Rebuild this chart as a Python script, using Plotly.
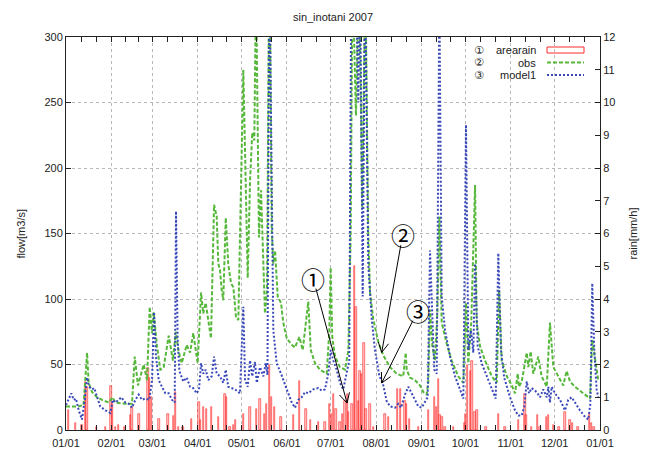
import math
import pandas as pd
import plotly.graph_objects as go

BASE = pd.Timestamp("2007-01-01")

# ---- data: (day of year from Jan 1, value) ----
obs_points = [
    (0, 18), (8, 18), (12, 19), (14.4, 59), (15.5, 36), (17.8, 29), (21.2, 25), (24.6, 23),
    (29.2, 21), (31.9, 25), (33.7, 21), (40.5, 20), (45.1, 20), (47, 56), (49.2, 34), (53.1, 50),
    (55.4, 38), (57.2, 94), (58.8, 74), (59.9, 90), (62.2, 64), (64.5, 46), (66.8, 48), (70.2, 72),
    (73.1, 53), (75, 75), (76.8, 61), (79.1, 51), (82.5, 65), (84.8, 59), (87, 74), (90, 51),
    (92.3, 105), (93.8, 89), (95.5, 97), (97.3, 82), (99.1, 70), (101.2, 172), (103, 163),
    (104.1, 127), (105.3, 122), (106.4, 107), (107.5, 99), (109.2, 162), (110.9, 127),
    (112.8, 112), (114.4, 109), (116.2, 86), (117.8, 84), (121.2, 275), (124.2, 116),
    (125.8, 190), (127.3, 227), (128.7, 221), (129.9, 340), (131.9, 147), (133.3, 183),
    (134.9, 127), (136, 89), (137.4, 107), (139, 380), (140.6, 153), (141.7, 127), (142.9, 137),
    (144.7, 102), (147, 97), (148.5, 82), (150.9, 70), (154.3, 65), (156.5, 63), (159.5, 71),
    (161.8, 61), (165.6, 98), (167.3, 61), (170.2, 51), (173.6, 46), (178.2, 43), (180, 76),
    (180.9, 124), (182, 71), (183.9, 56), (187.3, 48), (190.7, 46), (193, 61), (194.6, 150),
    (195.8, 350), (198.2, 240), (200.3, 350), (202.5, 170), (204.6, 350), (206.6, 150),
    (207.8, 105), (210.1, 84), (213.5, 67), (216.9, 57), (221.5, 48), (226, 43), (230.5, 41),
    (232.2, 59), (232.9, 46), (235.1, 40), (238.6, 38), (242, 34), (244.2, 29), (246.5, 27),
    (247.6, 36), (248.8, 92), (250.4, 64), (252.2, 53), (253.8, 89), (255.2, 163), (256.8, 82),
    (260.2, 66), (263.6, 53), (268.1, 41), (271.6, 36), (273.4, 97), (275, 51), (277, 82),
    (279.6, 187), (280.7, 82), (283, 64), (286.4, 53), (291, 41), (294.4, 36), (296, 107),
    (297.8, 53), (301.3, 41), (304.7, 34), (306.9, 28), (308.8, 43), (309.6, 33), (311.5, 37),
    (313.7, 51), (314.9, 59), (316, 48), (317.6, 60), (319.4, 43), (322.8, 56), (325.1, 41),
    (328.6, 33), (330.8, 82), (332, 64), (333.1, 48), (336.5, 41), (339.9, 34), (342.2, 45),
    (344.5, 37), (347.9, 33), (352.5, 29), (358.2, 24), (359.7, 69), (361.6, 53), (363.8, 38),
]

model_points = [
    (0, 19), (1.8, 24), (3.6, 28), (5.3, 23), (6.8, 24), (8.7, 15), (10.9, 8), (12.8, 23),
    (14.4, 40), (15.9, 33), (17.8, 31), (19.3, 32), (21.2, 25), (23.4, 18), (26.9, 15),
    (30.3, 13), (31.9, 23), (33.7, 21), (36, 23), (37.8, 25), (40.5, 21), (42.9, 20), (45.1, 17),
    (47.4, 23), (49.7, 27), (51.9, 23), (54.2, 24), (56.9, 23), (58.8, 38), (60.2, 90),
    (61.5, 56), (63.4, 38), (65.6, 33), (67.9, 28), (70.2, 28), (72.5, 23), (74.3, 21),
    (75.2, 167), (76.3, 70), (77.5, 45), (80.2, 37), (82.5, 40), (84.8, 33), (87, 32),
    (89.3, 28), (90.9, 31), (92.3, 51), (93.8, 43), (95.5, 46), (97.3, 38), (99.6, 41),
    (101.2, 56), (103, 43), (105.3, 41), (107.5, 36), (109.2, 46), (110.9, 33), (113.3, 32),
    (115.5, 31), (118.9, 28), (121.2, 94), (122.4, 38), (124.2, 33), (125.8, 53), (127.3, 41),
    (129.2, 52), (130.4, 36), (132.6, 48), (134.9, 41), (136.5, 51), (137.7, 42), (139, 360),
    (141.7, 76), (144, 51), (147, 43), (150.9, 31), (154.3, 21), (156.5, 17), (158.8, 23),
    (161.1, 25), (163.4, 29), (165.6, 28), (169, 31), (172.5, 32), (174.8, 30), (177, 31),
    (179.3, 43), (180.9, 61), (182.7, 53), (185, 46), (187.3, 36), (189.5, 31), (191.9, 43),
    (193.6, 53), (195, 350), (198, 350), (199.8, 250), (201, 350), (202.8, 102), (204.4, 350),
    (206.6, 127), (209, 84), (211.2, 61), (214.2, 41), (216.5, 36), (219.2, 22), (221.5, 18),
    (224.9, 17), (227.1, 20), (229, 17), (231.7, 27), (234, 33), (236.3, 28), (238.6, 23),
    (240.8, 18), (243.1, 17), (245.4, 21), (247.2, 25), (248.8, 137), (250, 102), (251.7, 46),
    (253.4, 43), (255.2, 330), (256.8, 102), (259.1, 76), (262.5, 56), (265.9, 41), (269.3, 31),
    (271.6, 24), (273.4, 233), (275, 61), (276.8, 76), (278.4, 59), (279.6, 127), (281.4, 64),
    (284.1, 51), (287.6, 41), (291, 31), (293.7, 24), (295.5, 135), (297.3, 61), (299.5, 40),
    (302, 31), (303.5, 25), (306.9, 15), (309.2, 11), (311.5, 11), (313.3, 18), (314.9, 37),
    (316.5, 28), (318.3, 32), (321.7, 29), (324, 25), (326.2, 31), (328.6, 25), (329.7, 33),
    (330.8, 21), (332, 33), (334.2, 28), (337.7, 23), (341.1, 15), (343.3, 23), (345.6, 25),
    (347.9, 21), (351.3, 15), (354.8, 10), (357, 8), (358.4, 20), (359.7, 112), (361.1, 61),
    (362.7, 31), (363.8, 25),
]

rain_points = [
    (1.8, 0.6), (6.3, 0.2), (11, 0.15), (13.3, 1.46), (14.4, 1.3), (21, 0.1), (27, 0.1),
    (30.8, 1.33), (32, 0.8), (34, 0.1), (36, 0.15), (40, 0.1), (44, 0.45), (45.1, 0.7),
    (50, 0.5), (56, 1.9), (57, 1.6), (58.3, 1.0), (63.5, 0.33), (69.7, 0.48), (73.5, 0.42),
    (74.7, 1.15), (76.8, 0.1), (80, 0.1), (85.6, 0.35), (90.9, 0.85), (92, 0.3), (93.8, 0.7),
    (96, 0.65), (99.6, 0.7), (104.1, 0.4), (108.7, 1.1), (109.8, 1.0), (112, 0.1), (114.5, 0.15),
    (116, 0.3), (121.2, 0.5), (125.8, 0.7), (130.4, 0.65), (132.6, 0.95), (135.5, 0.5),
    (137.1, 0.8), (139, 2.0), (140.6, 1.0), (142.4, 0.7), (147, 0.4), (155.3, 0.45),
    (159.5, 1.5), (164, 0.65), (167.3, 0.3), (172.5, 0.25), (177, 0.25), (180, 0.8),
    (181.6, 0.5), (182.7, 1.1), (184.5, 0.65), (187.3, 0.25), (189, 0.5), (190.7, 0.9),
    (192.2, 1.1), (193.3, 0.55), (195.5, 0.8), (197, 5.0), (198.3, 3.75), (199.8, 0.9),
    (201, 1.8), (202.2, 1.7), (203.7, 2.65), (205.1, 0.65), (207.8, 0.8), (210, 0.1),
    (218, 0.5), (220.3, 0.4), (226.6, 1.25), (228.5, 1.25), (231.7, 0.9), (232.9, 0.8),
    (235, 0.35), (241, 0.1), (247.6, 0.6), (251.7, 1.0), (253.4, 0.7), (254.5, 1.55),
    (255.6, 0.45), (257, 0.4), (259, 0.1), (265, 0.1), (272.5, 0.2), (273.2, 0.5), (274.5, 2.0),
    (276.3, 1.8), (277.4, 2.1), (279.6, 0.55), (281, 0.6), (287, 0.1), (295.5, 0.5), (300, 0.1),
    (309.2, 0.3), (313.7, 1.1), (314.5, 0.45), (318, 0.1), (322.5, 0.45), (324, 0.1),
    (328.6, 0.4), (329.7, 0.45), (333, 0.15), (337, 0.1), (341.1, 0.55), (344.5, 0.3),
    (346, 0.2), (350, 0.1), (358, 0.5), (359, 0.2), (361, 0.1),
]

title_text = "sin_inotani 2007"
series_names = ["arearain", "obs", "model1"]
marks = ["\u2460", "\u2461", "\u2462"]
# call-out targets: (day, flow) and offset of the circled number from the target, in px
callouts = [(192.1, 20.6, -34, -125), (215.8, 59.2, 21, -118), (215.8, 35.9, 36, -72)]


def to_dates(days):
    return [BASE + pd.Timedelta(days=float(d)) for d in days]


obs_day, obs_val = zip(*obs_points)
mod_day, mod_val = zip(*model_points)
rain_day, rain_val = zip(*rain_points)

FONT = "Liberation Sans, Arial, sans-serif"
CJK = "Noto Sans CJK JP"
GREEN = "#56b83a"
BLUE = "#3848b8"
RED = "#ff2a2a"

# plot-area geometry (pixels) used for the overlay drawings
W, H = 650, 449
ML, MR, MT, MB = 66, 50, 37, 19
PW, PH = W - ML - MR, H - MT - MB
XSPAN = 365.0
FLOW_MAX = 300.0


def px(v):
    return (v - ML) / PW


def py(v):
    return (H - MB - v) / PH


fig = go.Figure()
fig.add_trace(go.Bar(
    x=to_dates(rain_day), y=rain_val, yaxis="y", width=86400000 * 0.9,
    marker=dict(color="rgba(255,90,90,0.35)", line=dict(color=RED, width=0.6)),
    showlegend=False, name=series_names[0]))
fig.add_trace(go.Scatter(
    x=to_dates(obs_day), y=obs_val, yaxis="y2", mode="lines",
    line=dict(color=GREEN, width=2, dash="4px,2px"), showlegend=False, name=series_names[1]))
fig.add_trace(go.Scatter(
    x=to_dates(mod_day), y=mod_val, yaxis="y2", mode="lines",
    line=dict(color=BLUE, width=2, dash="2px,2px"), showlegend=False, name=series_names[2]))

# minor ticks: thirds of each month
minor_vals = []
months = pd.date_range("2007-01-01", "2008-01-01", freq="MS")
for a, b in zip(months[:-1], months[1:]):
    minor_vals.append(a + (b - a) / 3)
    minor_vals.append(a + 2 * (b - a) / 3)

grid = dict(showgrid=True, gridcolor="#b8b8b8", griddash="dot", gridwidth=1)

fig.update_layout(
    width=W, height=H,
    margin=dict(l=ML, r=MR, t=MT, b=MB),
    paper_bgcolor="white", plot_bgcolor="white",
    font=dict(family=FONT, size=11, color="#222"),
    bargap=0,
    title=dict(text=title_text, x=333 / W, xanchor="center", y=1 - 17 / H, yanchor="middle",
               font=dict(family=FONT, size=11, color="#222")),
    xaxis=dict(type="date", range=[BASE, BASE + pd.Timedelta(days=365)],
               tickformat="%m/%d", dtick="M1", tick0="2007-01-01",
               ticks="inside", ticklen=5, tickcolor="#222", ticklabelstandoff=3,
               automargin=False,
               showline=True, linecolor="#222", linewidth=1, mirror="allticks",
               minor=dict(tickvals=minor_vals, ticks="inside", ticklen=3, tickcolor="#222",
                          showgrid=False),
               zeroline=False, **grid),
    yaxis=dict(side="right", range=[0, 12], dtick=1, ticks="inside", ticklen=5,
               tickcolor="#222", showline=True, linecolor="#222", linewidth=1,
               showgrid=False, zeroline=False, automargin=False),
    yaxis2=dict(side="left", overlaying="y", range=[0, FLOW_MAX], dtick=50, ticks="inside",
                ticklen=5, tickcolor="#222", showline=True, linecolor="#222", linewidth=1,
                zeroline=False, automargin=False, **grid),
)

ann = []
ann.append(dict(text="flow[m3/s]", xref="paper", yref="paper", x=px(12), y=0.5,
                textangle=-90, showarrow=False, font=dict(family=FONT, size=11, color="#222")))
ann.append(dict(text="rain[mm/h]", xref="paper", yref="paper", x=px(640), y=0.5,
                textangle=-90, showarrow=False, font=dict(family=FONT, size=11, color="#222")))

# legend (keys on the right, labels right-aligned)
rows_y = [50, 62.5, 75]
for i, name in enumerate(series_names):
    ann.append(dict(text=name, xref="paper", yref="paper", x=px(538), y=py(rows_y[i]),
                    xanchor="right", yanchor="middle", showarrow=False,
                    font=dict(family=FONT, size=11, color="#222")))
    ann.append(dict(text=marks[i], xref="paper", yref="paper", x=px(479), y=py(rows_y[i]),
                    xanchor="center", yanchor="middle", showarrow=False,
                    font=dict(family="DejaVu Sans", size=11, color="#222")))

shapes = [
    dict(type="rect", xref="paper", yref="paper", x0=px(547), x1=px(584),
         y0=py(rows_y[0] + 3), y1=py(rows_y[0] - 3), line=dict(color=RED, width=1),
         fillcolor="rgba(0,0,0,0)"),
    dict(type="line", xref="paper", yref="paper", x0=px(547), x1=px(584),
         y0=py(rows_y[1]), y1=py(rows_y[1]), line=dict(color=GREEN, width=2, dash="4px,2px")),
    dict(type="line", xref="paper", yref="paper", x0=px(547), x1=px(584),
         y0=py(rows_y[2]), y1=py(rows_y[2]), line=dict(color=BLUE, width=2, dash="2px,2px")),
]

# call-out circled numbers with open-V arrows
for i, (d, v, dx, dy) in enumerate(callouts):
    tx = ML + d / XSPAN * PW
    ty = MT + PH - v / FLOW_MAX * PH
    cx, cy = tx + dx, ty + dy
    L = math.hypot(tx - cx, ty - cy)
    ux, uy = (tx - cx) / L, (ty - cy) / L
    sx, sy = cx + 11 * ux, cy + 11 * uy
    ang = math.atan2(uy, ux)
    legs = []
    for s in (1, -1):
        a = ang + math.pi + s * math.radians(28)
        legs.append((tx + 11 * math.cos(a), ty + 11 * math.sin(a)))
    path = (f"M{px(sx)},{py(sy)} L{px(tx)},{py(ty)} "
            f"M{px(legs[0][0])},{py(legs[0][1])} L{px(tx)},{py(ty)} L{px(legs[1][0])},{py(legs[1][1])}")
    shapes.append(dict(type="path", xref="paper", yref="paper", path=path,
                       line=dict(color="black", width=1)))
    ann.append(dict(text=marks[i], xref="paper", yref="paper", x=px(cx), y=py(cy),
                    xanchor="center", yanchor="middle", showarrow=False,
                    font=dict(family=CJK, size=24, color="black")))

fig.update_layout(annotations=ann, shapes=shapes)
fig.write_html("out.html")
